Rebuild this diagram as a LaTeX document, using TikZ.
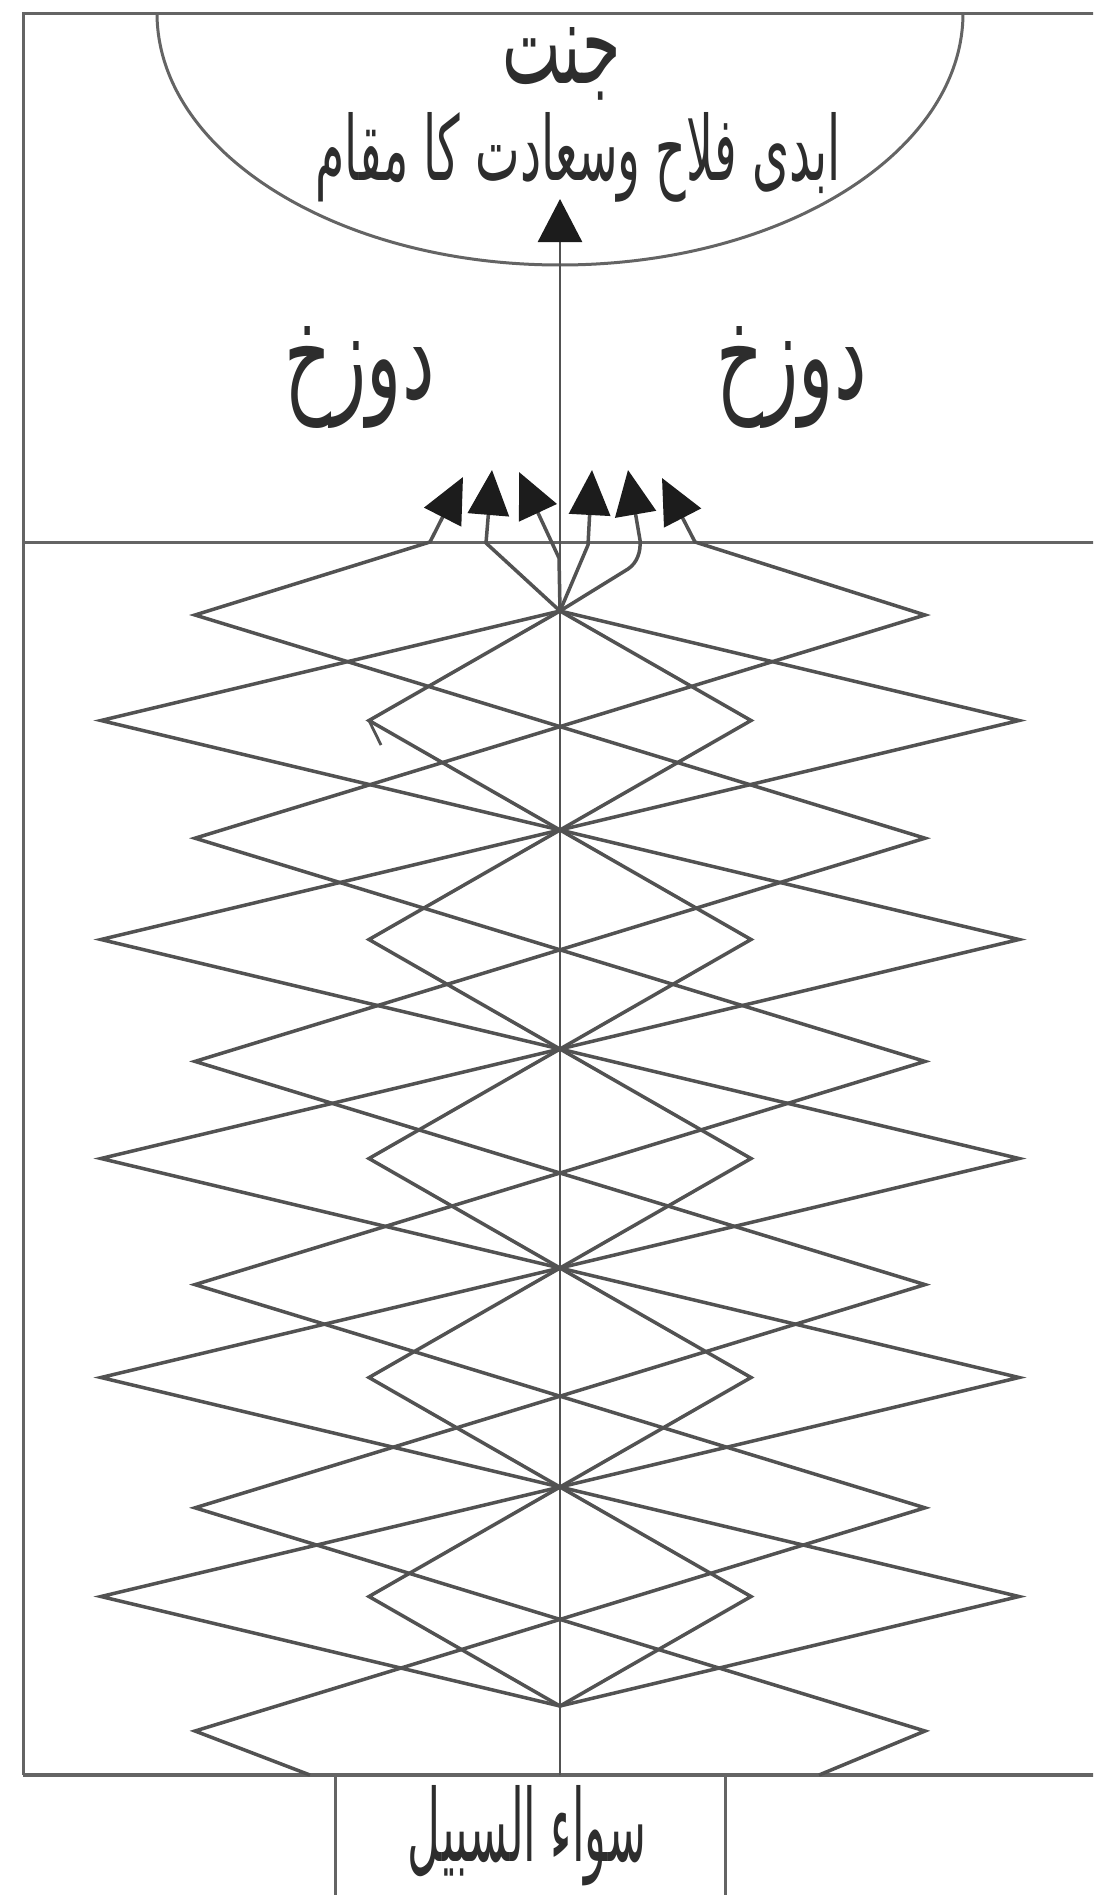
\documentclass[tikz,border=0pt]{standalone}
\usepackage{fontspec}
\usepackage{graphicx}
\usetikzlibrary{arrows.meta}
\TeXXeTstate=1
\newfontfamily\urdu[Script=Arabic]{DejaVu Sans}
\definecolor{ln}{RGB}{82,82,82}
\definecolor{frm}{RGB}{100,100,100}
\definecolor{tipc}{RGB}{28,28,28}
\definecolor{txt}{RGB}{45,45,45}
\begin{document}
\begin{tikzpicture}[x=1pt,y=-1pt,
  zig/.style={draw=ln, line width=3.5pt},
  framel/.style={draw=frm, line width=3pt},
  axisl/.style={draw=ln, line width=2.6pt},
  arrtip/.style={-{Triangle[length=45pt,width=41pt,color=tipc]}},
  lbl/.style={inner sep=0pt, text=txt}]
\useasboundingbox (0,0) rectangle (1093,1895);
\fill[white] (0,0) rectangle (1093,1895);
\clip (0,0) rectangle (1093,1895);

% frame
\coordinate (tl) at (23,13);
\coordinate (tr) at (1100,13);
\coordinate (bl) at (23,1775);
\coordinate (br) at (1100,1775);
\coordinate (ml) at (23,542);
\coordinate (mr) at (1100,542);
\draw[framel] (tr) -- (tl) -- (bl);
\draw[framel, line width=4pt] (bl) -- (br);
\draw[framel] (ml) -- (mr);
% bottom box
\coordinate (bxl) at (335,1775);
\coordinate (bxr) at (725,1775);
\draw[framel] (bxl) -- (335,1900);
\draw[framel] (bxr) -- (725,1900);
% semi-ellipse (paradise)
\coordinate (arcs) at (157,13);
\draw[framel] (arcs) arc[start angle=180, end angle=0, x radius=403, y radius=252];

% vertices
\foreach \k in {0,...,5} {
  \coordinate (C\k) at (560,{611+219*\k});
  \coordinate (OL\k) at (195,{615+223.2*\k});
  \coordinate (OR\k) at (925,{615+223.2*\k});
}
\foreach \k in {0,...,4} {
  \coordinate (FL\k) at (101,{720.5+219*\k});
  \coordinate (FR\k) at (1019,{720.5+219*\k});
  \coordinate (IL\k) at (369,{720.5+219*\k});
  \coordinate (IR\k) at (751,{720.5+219*\k});
}
\coordinate (sA) at (819,1775);
\coordinate (sB) at (310,1775);
% bends and arrow tips
\coordinate (b1) at (430,542);  \coordinate (t1) at (463,477);
\coordinate (b2) at (486,543);  \coordinate (t2) at (492,470);
\coordinate (b3) at (559,558);  \coordinate (t3) at (519,472);
\coordinate (b4) at (588,545);  \coordinate (t4) at (592,470);
\coordinate (b5) at (628,569);  \coordinate (c5) at (640,540); \coordinate (t5) at (628,470);
\coordinate (b6) at (695,542);  \coordinate (t6) at (662,478);

% central axis with arrow into paradise
\coordinate (axbot) at (560,1775);
\coordinate (axtop) at (560,199);
\draw[axisl, -{Triangle[length=43pt,width=44pt,color=tipc]}] (axbot) -- (axtop);

% outer zigzags
\draw[zig, arrtip] (sA) -- (OR5) -- (OL4) -- (OR3) -- (OL2) -- (OR1) -- (OL0) -- (b1) -- (t1);
\draw[zig, arrtip] (sB) -- (OL5) -- (OR4) -- (OL3) -- (OR2) -- (OL1) -- (OR0) -- (b6) -- (t6);
% far zigzags
\draw[zig, arrtip] (C5) -- (FL4) -- (FR3) -- (FL2) -- (FR1) -- (FL0) -- (C0) -- (b4) -- (t4);
\draw[zig, arrtip] (C5) -- (FR4) -- (FL3) -- (FR2) -- (FL1) -- (FR0) -- (C0) -- (b3) -- (t3);
% inner zigzags
\draw[zig, arrtip] (C5) -- (IL4) -- (IR3) -- (IL2) -- (IR1) -- (IL0) -- (C0) -- (b5) .. controls (637,563) and (641,552) .. (c5) -- (t5);
\draw[zig, arrtip] (C5) -- (IR4) -- (IL3) -- (IR2) -- (IL1) -- (IR0) -- (C0) -- (b2) -- (t2);
% small hook at inner left vertex
\coordinate (hk) at (381,745);
\draw[zig, line width=2.8pt] (IL0) -- (hk);

% labels
\node[lbl] (jannat) at (562,64) {\resizebox{118pt}{56pt}{\urdu\beginR جنت\endR}};
\node[lbl] (maqam) at (578,157) {\resizebox{525pt}{68pt}{\urdu\beginR ابدی فلاح وسعادت کا مقام\endR}};
\node[lbl] (dozakhL) at (359.5,377) {\resizebox{150pt}{72pt}{\urdu\beginR دوزخ\endR}};
\node[lbl] (dozakhR) at (791.5,377) {\resizebox{150pt}{72pt}{\urdu\beginR دوزخ\endR}};
\node[lbl] (sabil) at (527,1836) {\resizebox{238pt}{76pt}{\urdu\beginR سواء السبیل\endR}};
\end{tikzpicture}
\end{document}
